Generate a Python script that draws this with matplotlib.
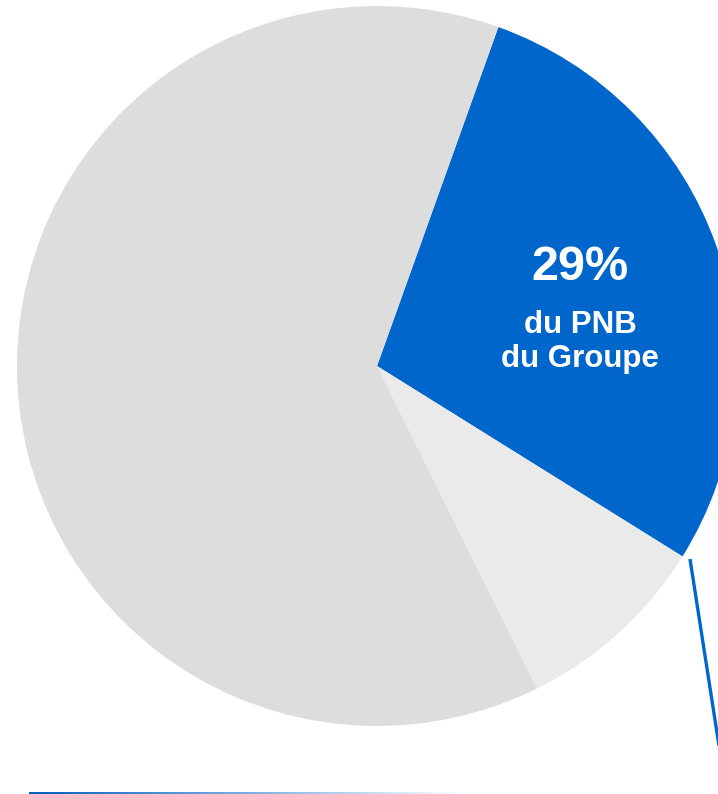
import matplotlib
matplotlib.use("Agg")
import matplotlib.pyplot as plt
import numpy as np
from matplotlib.colors import LinearSegmentedColormap

# Data
categories = ["Banque de détail", "Autre 1", "Autre 2"]
shares = [28.4, 8.8, 62.8]
colors = ["#0066CC", "#EAEAEA", "#DDDDDD"]
label_pct = "29%"
label_sub = "du PNB\ndu Groupe"

W, H = 718, 794
fig = plt.figure(figsize=(W / 100, H / 100), dpi=100)
ax = fig.add_axes([0, 0, 1, 1])

cx, cy, r = 377, H - 366, 360
ax.pie(shares, colors=colors, startangle=70.3, counterclock=False,
       center=(cx, cy), radius=r, frame=True,
       wedgeprops=dict(linewidth=0, antialiased=True))

ax.text(580, H - 268, label_pct, ha="center", va="center", color="white",
        fontsize=35, fontweight="bold", family="Liberation Sans")
ax.text(580, H - 342, label_sub, ha="center", va="center", color="white",
        fontsize=22.5, fontweight="bold", family="Liberation Sans",
        linespacing=1.2)

# Blue connector line
ax.plot([690, 722], [H - 559, H - 765], color="#0066CC", lw=2.4,
        solid_capstyle="butt")

# Gradient rule at bottom
cmap = LinearSegmentedColormap.from_list("g", ["#0060C0", "#7AAEE0", "#FFFFFF"])
grad = np.linspace(0, 1, 256).reshape(1, -1)
ax.imshow(grad, cmap=cmap, extent=(29, 465, 0, 1.6), aspect="auto",
          interpolation="bilinear", zorder=3)

ax.set_xlim(0, W)
ax.set_ylim(0, H)
ax.set_aspect("auto")
ax.axis("off")

fig.savefig("out.png", dpi=100)
